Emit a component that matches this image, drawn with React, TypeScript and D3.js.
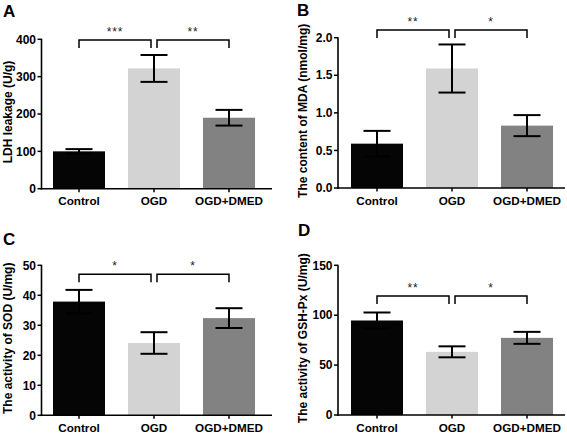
import React from "react";
import * as d3 from "d3";

const categories = ["Control", "OGD", "OGD+DMED"];
const barColors = ["#050505", "#d3d3d3", "#828282"];

const ldhMean = [100, 322, 190];
const ldhErr = [6, 36, 21];
const ldhTicks = [0, 100, 200, 300, 400];
const ldhSig = ["***", "**"];

const mdaMean = [0.59, 1.59, 0.83];
const mdaErr = [0.17, 0.32, 0.14];
const mdaTicks = [0, 0.5, 1.0, 1.5, 2.0];
const mdaSig = ["**", "*"];

const sodMean = [37.9, 24.1, 32.4];
const sodErr = [3.9, 3.6, 3.3];
const sodTicks = [0, 10, 20, 30, 40, 50];
const sodSig = ["*", "*"];

const gshMean = [94.7, 63.3, 77.3];
const gshErr = [8, 5.5, 6];
const gshTicks = [0, 50, 100, 150];
const gshSig = ["**", "*"];

const FONT = "'Liberation Sans', Arial, Helvetica, sans-serif";

type Layout = {
  x0: number; yTop: number; yBot: number; xEnd: number; shift: number;
  bracketY: number; letterX: number; letterY: number; labelX: number;
};

type PanelProps = {
  letter: string; label: string; mean: number[]; err: number[]; ticks: number[];
  fmt: (v: number) => string; sig: string[]; layout: Layout;
};

function Panel({ letter, label, mean, err, ticks, fmt, sig, layout }: PanelProps) {
  const { x0, yTop, yBot, xEnd, shift, bracketY, letterX, letterY, labelX } = layout;
  const pi = 1 - 52 / 75;
  const x = d3.scaleBand<string>().domain(categories)
    .range([x0 + shift, x0 + shift + 225]).paddingInner(pi).paddingOuter(pi / 2);
  const y = d3.scaleLinear().domain([ticks[0], ticks[ticks.length - 1]]).range([yBot, yTop]);
  const cx = (c: string) => (x(c) as number) + x.bandwidth() / 2;
  const c0 = cx(categories[0]), c1 = cx(categories[1]), c2 = cx(categories[2]);
  const leg = 8;
  const bracket = (a: number, b: number) =>
    `M${a},${bracketY + leg}V${bracketY}H${b}V${bracketY + leg}`;
  return (
    <g fontFamily={FONT}>
      <text x={letterX} y={letterY} fontSize={17} fontWeight="bold">{letter}</text>
      {categories.map((c, i) => (
        <rect key={c} x={x(c)} y={y(mean[i])} width={x.bandwidth()} height={yBot - y(mean[i])} fill={barColors[i]} />
      ))}
      {categories.map((c, i) => {
        const m = cx(c);
        const hi = y(mean[i] + err[i]);
        const lo = y(mean[i] - err[i]);
        return (
          <g key={c} stroke="#000" strokeWidth={2} fill="none">
            <line x1={m} x2={m} y1={hi} y2={lo} />
            <line x1={m - 13.5} x2={m + 13.5} y1={hi} y2={hi} />
            <line x1={m - 13.5} x2={m + 13.5} y1={lo} y2={lo} />
          </g>
        );
      })}
      <line x1={x0} x2={x0} y1={yTop - 0.5} y2={yBot + 0.8} stroke="#000" strokeWidth={1.6} />
      <line x1={x0 - 0.8} x2={xEnd} y1={yBot} y2={yBot} stroke="#000" strokeWidth={1.6} />
      {ticks.map((t) => (
        <g key={t}>
          <line x1={x0 - 4} x2={x0} y1={y(t)} y2={y(t)} stroke="#000" strokeWidth={1.5} />
          <text x={x0 - 5.5} y={y(t) + 4.2} fontSize={12} fontWeight="bold" textAnchor="end">{fmt(t)}</text>
        </g>
      ))}
      {categories.map((c) => (
        <g key={c}>
          <line x1={cx(c)} x2={cx(c)} y1={yBot} y2={yBot + 3.5} stroke="#000" strokeWidth={1.5} />
          <text x={cx(c)} y={yBot + 16.5} fontSize={11.7} fontWeight="bold" textAnchor="middle">{c}</text>
        </g>
      ))}
      <text transform={`translate(${labelX},${(yTop + yBot) / 2 - 2}) rotate(-90)`} fontSize={12} fontWeight="bold" textAnchor="middle">{label}</text>
      <path d={bracket(c0, c1 - 3)} stroke="#000" strokeWidth={1.5} fill="none" />
      <path d={bracket(c1 + 3, c2)} stroke="#000" strokeWidth={1.5} fill="none" />
      <text x={(c0 + c1 - 3) / 2} y={bracketY - 4} fontSize={12} fill="#222" textAnchor="middle" letterSpacing={0.8}>{sig[0]}</text>
      <text x={(c1 + 3 + c2) / 2} y={bracketY - 4} fontSize={12} fill="#222" textAnchor="middle" letterSpacing={0.8}>{sig[1]}</text>
    </g>
  );
}

const layoutA: Layout = { x0: 41.5, yTop: 39.3, yBot: 188.7, xEnd: 272, shift: 0, bracketY: 40, letterX: 3, letterY: 17, labelX: 12 };
const layoutB: Layout = { x0: 338, yTop: 37.7, yBot: 188, xEnd: 565, shift: 1.5, bracketY: 30, letterX: 297, letterY: 16, labelX: 307 };
const layoutC: Layout = { x0: 41.5, yTop: 265.3, yBot: 415.3, xEnd: 272, shift: 0, bracketY: 274.3, letterX: 3, letterY: 245, labelX: 12 };
const layoutD: Layout = { x0: 338, yTop: 265.3, yBot: 415, xEnd: 565, shift: 1.5, bracketY: 296, letterX: 298, letterY: 236, labelX: 307 };

export default function App() {
  const intFmt = (v: number) => d3.format("d")(v);
  const decFmt = (v: number) => d3.format(".1f")(v);
  return (
    <svg width={567} height={433} style={{ position: "absolute", left: 0, top: 0, background: "#fff" }}>
      <rect width={567} height={433} fill="#fff" />
      <Panel letter="A" label="LDH leakage (U/g)" mean={ldhMean} err={ldhErr} ticks={ldhTicks} fmt={intFmt} sig={ldhSig} layout={layoutA} />
      <Panel letter="B" label="The content of MDA (nmol/mg)" mean={mdaMean} err={mdaErr} ticks={mdaTicks} fmt={decFmt} sig={mdaSig} layout={layoutB} />
      <Panel letter="C" label="The activity of SOD (U/mg)" mean={sodMean} err={sodErr} ticks={sodTicks} fmt={intFmt} sig={sodSig} layout={layoutC} />
      <Panel letter="D" label="The activity of GSH-Px (U/mg)" mean={gshMean} err={gshErr} ticks={gshTicks} fmt={intFmt} sig={gshSig} layout={layoutD} />
    </svg>
  );
}
